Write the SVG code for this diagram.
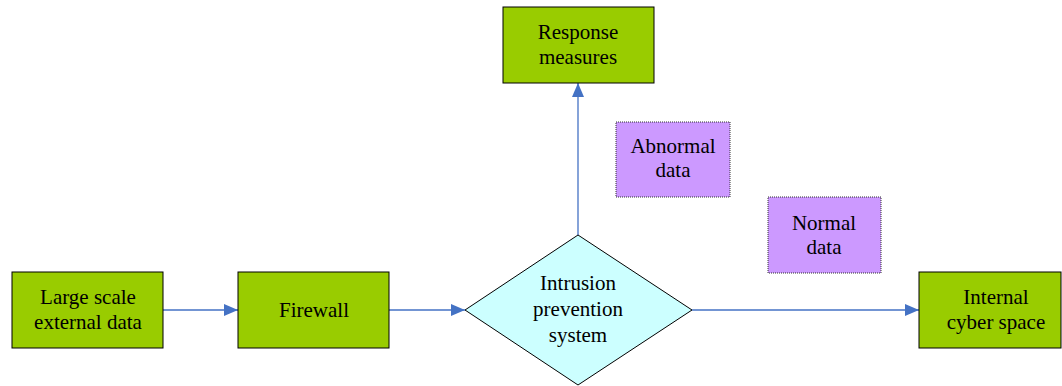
<svg xmlns="http://www.w3.org/2000/svg" width="1062" height="386" viewBox="0 0 1062 386">
<defs>
<style>
.box{fill:#99CC00;stroke:#000;stroke-width:1}
.note{fill:#CC99FF;stroke:#333;stroke-width:1;stroke-dasharray:1 1}
.dia{fill:#CCFFFF;stroke:#000;stroke-width:1}
.t{font-family:"Liberation Serif","Times New Roman",serif;font-size:21px;fill:#000;text-anchor:middle}
.c{stroke:#4472C4;stroke-width:1.3;fill:none;marker-end:url(#ah)}
</style>
<marker id="ah" markerWidth="14" markerHeight="12" refX="14" refY="6" orient="auto" markerUnits="userSpaceOnUse">
<path d="M0,0 L14,6 L0,12 Z" fill="#4472C4"/>
</marker>
</defs>
<rect width="1062" height="386" fill="#fff"/>
<g id="connectors">
<line class="c" x1="163" y1="310" x2="238" y2="310"/>
<line class="c" x1="389" y1="310" x2="465" y2="310"/>
<line class="c" x1="692" y1="310" x2="919" y2="310"/>
<line class="c" x1="578" y1="235" x2="578" y2="83"/>
</g>
<g id="n-large">
<rect class="box" x="12" y="272" width="151" height="76"/>
<text class="t" x="88" y="304">Large scale</text>
<text class="t" x="88" y="329">external data</text>
</g>
<g id="n-firewall">
<rect class="box" x="238" y="272" width="151" height="76"/>
<text class="t" x="314" y="317">Firewall</text>
</g>
<g id="n-ips">
<polygon class="dia" points="578,235 692,310 578,385 465,310"/>
<text class="t" x="578" y="290">Intrusion</text>
<text class="t" x="578" y="316">prevention</text>
<text class="t" x="578" y="342">system</text>
</g>
<g id="n-response">
<rect class="box" x="503" y="7" width="151" height="76"/>
<text class="t" x="578" y="39">Response</text>
<text class="t" x="578" y="64">measures</text>
</g>
<g id="n-abnormal">
<rect class="note" x="616" y="122" width="114" height="75"/>
<text class="t" x="673" y="153">Abnormal</text>
<text class="t" x="673" y="177">data</text>
</g>
<g id="n-normal">
<rect class="note" x="768" y="197" width="113" height="76"/>
<text class="t" x="824" y="230">Normal</text>
<text class="t" x="824" y="254">data</text>
</g>
<g id="n-internal">
<rect class="box" x="919" y="272" width="142" height="76"/>
<text class="t" x="996" y="304">Internal</text>
<text class="t" x="996" y="329">cyber space</text>
</g>
</svg>
